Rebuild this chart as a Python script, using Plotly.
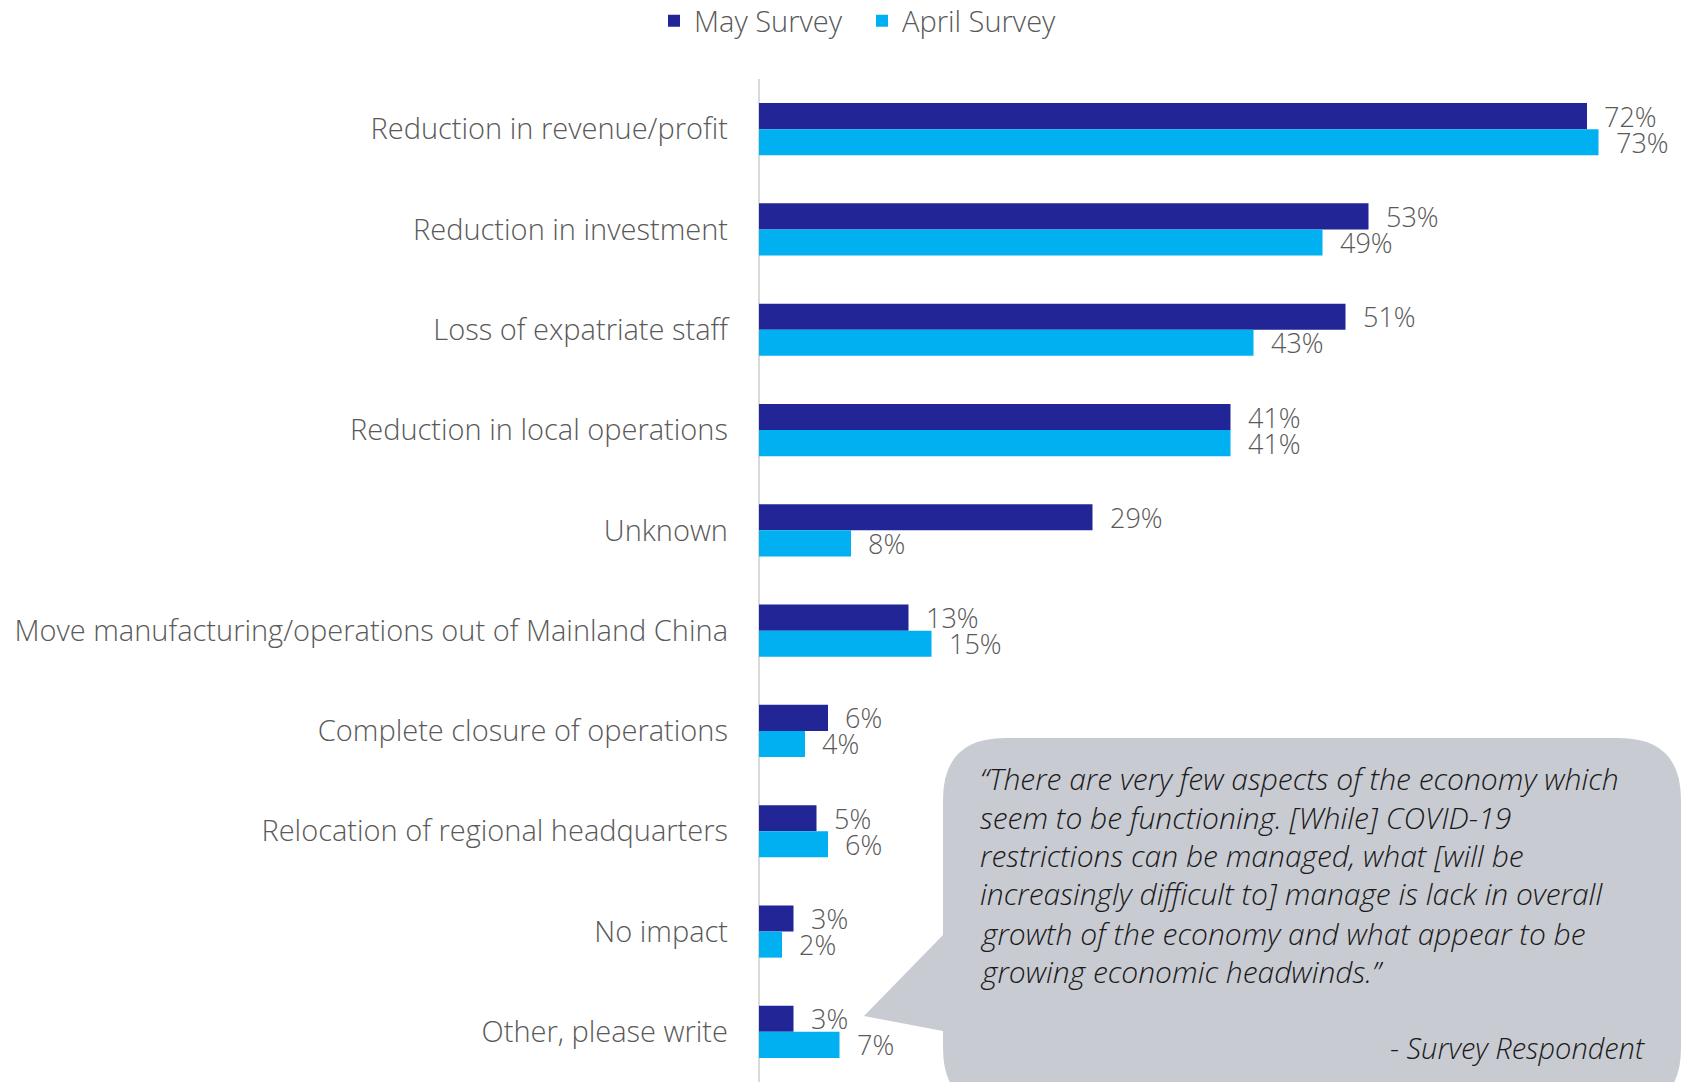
import plotly.graph_objects as go

categories = [
    "Reduction in revenue/profit",
    "Reduction in investment",
    "Loss of expatriate staff",
    "Reduction in local operations",
    "Unknown",
    "Move manufacturing/operations out of Mainland China",
    "Complete closure of operations",
    "Relocation of regional headquarters",
    "No impact",
    "Other, please write",
]
may_values = [72, 53, 51, 41, 29, 13, 6, 5, 3, 3]
april_values = [73, 49, 43, 41, 8, 15, 4, 6, 2, 7]
series_names = ["May Survey", "April Survey"]
series_colors = ["#212596", "#00B0F0"]

quote_lines = [
    "\u201cThere are very few aspects of the economy which",
    "seem to be functioning. [While] COVID-19",
    "restrictions can be managed, what [will be",
    "increasingly difficult to] manage is lack in overall",
    "growth of the economy and what appear to be",
    "growing economic headwinds.\u201d",
]
attribution = "- Survey Respondent"

W, H = 1693, 1082
ML, MR, MT, MB = 759, 14, 79, 0
PW, PH = W - ML - MR, H - MT - MB

FONT = "Open Sans"
GRAY = "#595959"


def px(x, y):
    return (x - ML) / PW, (H - MB - y) / PH


fig = go.Figure()
for name, vals, col in zip(series_names, [may_values, april_values], series_colors):
    fig.add_trace(go.Bar(
        y=categories, x=vals, name=name, orientation="h",
        marker=dict(color=col, line=dict(width=0)),
        hoverinfo="x+y+name",
    ))

annotations = []
for i, cat in enumerate(categories):
    for vals, ys in ((may_values, 13), (april_values, -13)):
        annotations.append(dict(
            x=vals[i], y=cat, xref="x", yref="y", text=f"{vals[i]}%",
            showarrow=False, xanchor="left", yanchor="middle",
            xshift=15, yshift=ys,
            font=dict(family=FONT, size=27, color=GRAY, weight=300),
        ))

# speech bubble
R = 62
bx0, bx1, by0, by1 = 943, 1681, 738, 1110


def P(x, y):
    a, b = px(x, y)
    return f"{a:.5f},{b:.5f}"


path = (
    f"M{P(bx0 + R, by0)} L{P(bx1 - R, by0)} Q{P(bx1, by0)} {P(bx1, by0 + R)} "
    f"L{P(bx1, by1 - R)} Q{P(bx1, by1)} {P(bx1 - R, by1)} "
    f"L{P(bx0 + R, by1)} Q{P(bx0, by1)} {P(bx0, by1 - R)} "
    f"L{P(bx0, 1031)} L{P(864, 1016)} L{P(bx0, 935)} "
    f"L{P(bx0, by0 + R)} Q{P(bx0, by0)} {P(bx0 + R, by0)} Z"
)
shapes = [
    dict(type="path", path=path, xref="paper", yref="paper",
         fillcolor="#C9CBD2", line=dict(width=0), layer="above"),
    dict(type="line", xref="paper", yref="paper", x0=0, x1=0, y0=0, y1=1,
         line=dict(color="#D9D9D9", width=2), layer="below"),
]

line_y = [778, 817, 855, 893, 933, 971]
for txt, yy in zip(quote_lines, line_y):
    a, b = px(978, yy)
    annotations.append(dict(
        x=a, y=b, xref="paper", yref="paper", text=f"<i>{txt}</i>",
        showarrow=False, xanchor="left", yanchor="middle",
        font=dict(family=FONT, size=30, color="#1a1a1a", weight=300),
    ))
a, b = px(1647, 1047)
annotations.append(dict(
    x=a, y=b, xref="paper", yref="paper", text=f"<i>{attribution}</i>",
    showarrow=False, xanchor="right", yanchor="middle",
    font=dict(family=FONT, size=29, color="#1a1a1a", weight=300),
))

fig.update_layout(
    width=W, height=H,
    margin=dict(l=ML, r=MR, t=MT, b=MB, pad=0),
    paper_bgcolor="white", plot_bgcolor="white",
    barmode="group", bargap=0.48, bargroupgap=0,
    showlegend=True,
    legend=dict(
        orientation="h", xref="container", yref="container",
        x=654 / W, y=1 - 21 / H, xanchor="left", yanchor="middle",
        font=dict(family=FONT, size=29, color=GRAY, weight=300),
        itemwidth=30, bgcolor="rgba(0,0,0,0)",
        entrywidth=163, entrywidthmode="pixels",
    ),
    xaxis=dict(range=[0, 80], visible=False, fixedrange=True),
    yaxis=dict(
        autorange="reversed", showgrid=False, zeroline=False, showline=False,
        ticks="", ticklabelstandoff=30, fixedrange=True,
        tickfont=dict(family=FONT, size=29, color=GRAY, weight=300),
    ),
    shapes=shapes, annotations=annotations,
    font=dict(family=FONT),
)

fig.write_html(
    "out.html",
    config={"displayModeBar": False},
    post_script="document.body.style.margin='0px';",
)
